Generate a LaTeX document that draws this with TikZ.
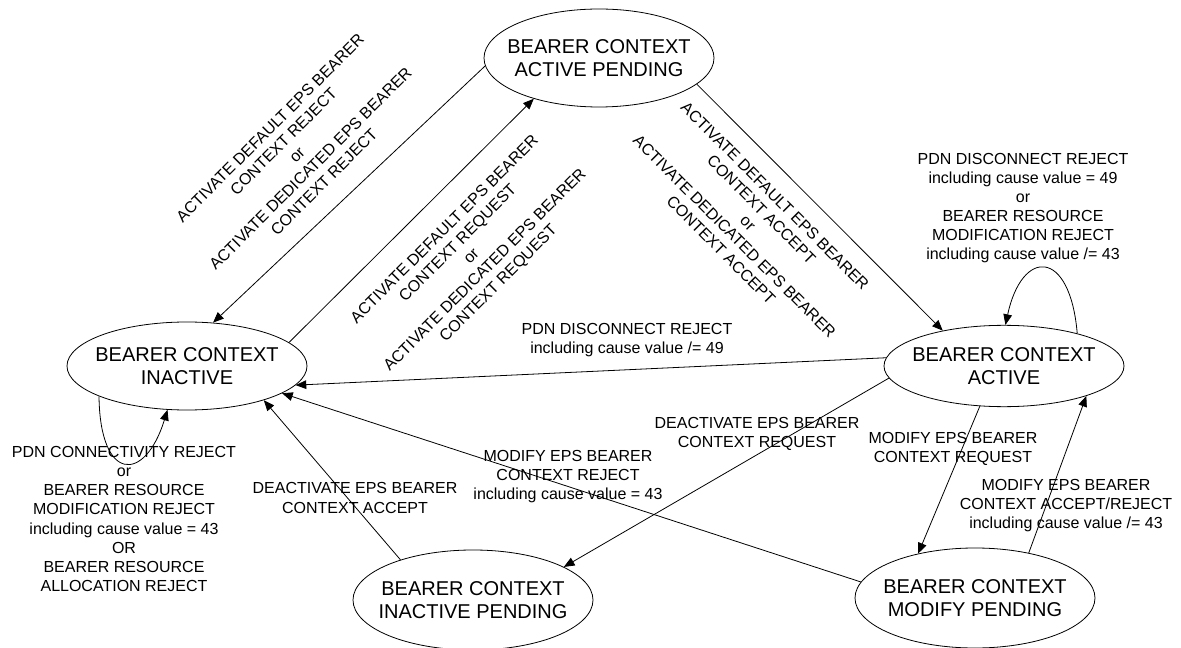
\documentclass[tikz,border=0pt]{standalone}
\usepackage{fontspec}
\setmainfont{Liberation Sans}
\usetikzlibrary{shapes.geometric,arrows.meta}
\begin{document}
\begin{tikzpicture}[x=0.75pt,y=-0.75pt,
  state/.style={ellipse, draw, line width=0.6pt, minimum width=180pt, minimum height=66pt,
    inner xsep=-12pt, inner ysep=0pt, align=center, font=\fontsize{15}{17.5}\selectfont},
  lbl/.style={align=center, inner sep=0pt, font=\fontsize{12}{14.3}\selectfont},
  tr/.style={-{Triangle[length=8pt,width=6.5pt]}, line width=0.6pt}]
\useasboundingbox (0,0) rectangle (1181,648);

% states
\node[state, minimum width=172.5pt, minimum height=73.5pt] (AP) at (599,58) {BEARER CONTEXT\\ACTIVE PENDING};
\node[state, minimum height=66pt] (IN) at (187,366) {BEARER CONTEXT\\INACTIVE};
\node[state, minimum height=61pt] (AC) at (1004,366) {BEARER CONTEXT\\ACTIVE};
\node[state, minimum height=75pt] (IP) at (473,600) {BEARER CONTEXT\\INACTIVE PENDING};
\node[state, minimum height=75pt] (MP) at (975,598) {BEARER CONTEXT\\MODIFY PENDING};

% transitions
\draw[tr] (AP.184) -- (IN.59);
\draw[tr] (IN.13) -- (AP.-148);
\draw[tr] (AP.-15) -- (AC.150);
\draw[tr] (AC.176) -- (IN.-10);
\draw[tr] (AC.-174) -- (IP.20);
\draw[tr] (MP.172) -- (IN.-16);
\draw[tr] (IP.151) -- (IN.-24);
\draw[tr] (AC.-121) -- (MP.142);
\draw[tr] (MP.40) -- (AC.-20);
\draw[tr] (AC.24) .. controls (1070,248) and (1022,248) .. (AC.88);
\draw[tr] (IN.-161) .. controls (100,483) and (145,483) .. (IN.-114);

% labels
\node[lbl, rotate=45] (l1) at (297,155) {ACTIVATE DEFAULT EPS BEARER\\CONTEXT REJECT\\or\\ACTIVATE DEDICATED EPS BEARER\\CONTEXT REJECT};
\node[lbl, rotate=45] (l2) at (472,257) {ACTIVATE DEFAULT EPS BEARER\\CONTEXT REQUEST\\or\\ACTIVATE DEDICATED EPS BEARER\\CONTEXT REQUEST};
\node[lbl, rotate=-45] (l3) at (748,223) {ACTIVATE DEFAULT EPS BEARER\\CONTEXT ACCEPT\\or\\ACTIVATE DEDICATED EPS BEARER\\CONTEXT ACCEPT};
\node[lbl] (l4) at (1023,208) {PDN DISCONNECT REJECT\\including cause value = 49\\or\\BEARER RESOURCE\\MODIFICATION REJECT\\including cause value /= 43};
\node[lbl] (l5) at (627,340) {PDN DISCONNECT REJECT\\including cause value /= 49};
\node[lbl] (l6) at (124,519) {PDN CONNECTIVITY REJECT\\or\\BEARER RESOURCE\\MODIFICATION REJECT\\including cause value = 43\\OR\\BEARER RESOURCE\\ALLOCATION REJECT};
\node[lbl] (l7) at (355,498) {DEACTIVATE EPS BEARER\\CONTEXT ACCEPT};
\node[lbl] (l8) at (568,477) {MODIFY EPS BEARER\\CONTEXT REJECT\\including cause value = 43};
\node[lbl] (l9) at (757,434) {DEACTIVATE EPS BEARER\\CONTEXT REQUEST};
\node[lbl] (l10) at (953,449) {MODIFY EPS BEARER\\CONTEXT REQUEST};
\node[lbl] (l11) at (1066,506) {MODIFY EPS BEARER\\CONTEXT ACCEPT/REJECT\\including cause value /= 43};
\end{tikzpicture}
\end{document}
